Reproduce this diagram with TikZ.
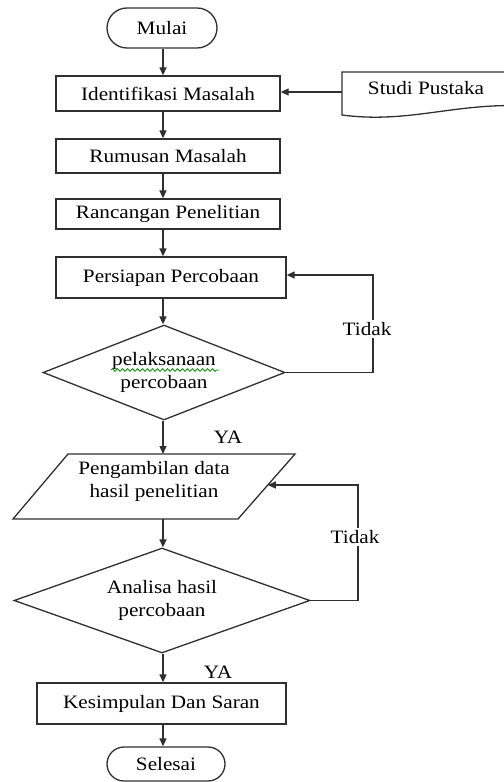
\documentclass[tikz,border=0pt]{standalone}
\usepackage{fontspec}
\setmainfont{Liberation Serif}[FakeStretch=1.12]
\usetikzlibrary{arrows.meta,shapes.geometric,shapes.misc,decorations.pathmorphing,calc}
\definecolor{lc}{HTML}{303030}
\begin{document}
\begin{tikzpicture}[x=1bp,y=-1bp,line width=1.3bp,
  every node/.style={font=\fontsize{19}{23}\selectfont,inner sep=0pt,text=black},
  box/.style={draw=lc,rectangle,minimum width=224bp,minimum height=35bp,align=center},
  term/.style={draw=lc,rounded rectangle,minimum width=110bp,minimum height=40bp},
  dec/.style={draw=lc,diamond,aspect=2.5,align=center},
  lbl/.style={fill=white,inner sep=2bp},
  arr/.style={draw=lc,-{Triangle[length=8bp,width=7bp]}}]
\useasboundingbox (0,0) rectangle (504,782);
\coordinate (sp) at (163,0);
% nodes
\node[term] (mulai) at (162,28) {Mulai};
\node[box] (ident) at (168,93.5) {Identifikasi Masalah};
\node[box,minimum height=34bp] (rumus) at (168,156) {Rumusan Masalah};
\node[box,minimum height=30bp] (ranc) at (168,214) {Rancangan Penelitian};
\node[box,minimum width=230bp,minimum height=41bp] (pers) at (171,277.5) {Persiapan Percobaan};
\node[dec,minimum width=242bp,minimum height=95bp] (d1) at (164,372.5) {pelaksanaan\\percobaan};
% parallelogram
\coordinate (dTL) at (68,454);
\coordinate (dTR) at (295,454);
\coordinate (dBR) at (238,519);
\coordinate (dBL) at (13,519);
\draw[lc] (dTL) -- (dTR) -- (dBR) -- (dBL) -- cycle;
\node[align=center] (data) at (154,481.5) {Pengambilan data\\hasil penelitian};
\coordinate (dR) at ($(dTR)!0.477!(dBR)$);
\node[dec,minimum width=296bp,minimum height=105bp] (d2) at (162,600.5) {Analisa hasil\\percobaan};
\node[box,minimum width=249bp,minimum height=41bp] (kes) at (161.5,703.5) {Kesimpulan Dan Saran};
\node[term,minimum width=118bp,minimum height=34bp] (sel) at (166,764) {Selesai};
% Studi Pustaka document
\draw[lc] (342,72) -- (530,72) -- (530,106) .. controls (455,102) and (410,124) .. (342,115) -- cycle;
\node (studi) at (426,88) {Studi Pustaka};
\coordinate (docL) at (342,92);
% spell-check squiggle
\draw[green!55!black,line width=0.8bp,decorate,decoration={snake,amplitude=1.3bp,segment length=5bp}] (111,370) -- (219,370);
% connectors
\draw[arr] (mulai.south -| sp) -- (ident.north -| sp);
\draw[arr] (docL) -- (docL -| ident.east);
\draw[arr] (ident.south -| sp) -- (rumus.north -| sp);
\draw[arr] (rumus.south -| sp) -- (ranc.north -| sp);
\draw[arr] (ranc.south -| sp) -- (pers.north -| sp);
\draw[arr] (pers.south -| sp) -- (d1.north -| sp);
\draw[arr] (d1.south -| sp) -- (dTL -| sp);
\draw[arr] (dBL -| sp) -- (d2.north -| sp);
\draw[arr] (d2.south -| sp) -- (kes.north -| sp);
\draw[arr] (kes.south -| sp) -- (sel.north -| sp);
\coordinate (l1) at (373,0);
\draw[arr] (d1.east) -- (d1.east -| l1) -- (l1 |- 0,275) -- (pers.east |- 0,275);
\coordinate (l2) at (358,0);
\draw[arr] (d2.east) -- (d2.east -| l2) -- (l2 |- dR) -- (dR);
% labels
\node[lbl] (t1) at (367,329) {Tidak};
\node[lbl] (t2) at (355,537) {Tidak};
\node (ya1) at (228,437) {YA};
\node (ya2) at (218,672) {YA};
\end{tikzpicture}
\end{document}
